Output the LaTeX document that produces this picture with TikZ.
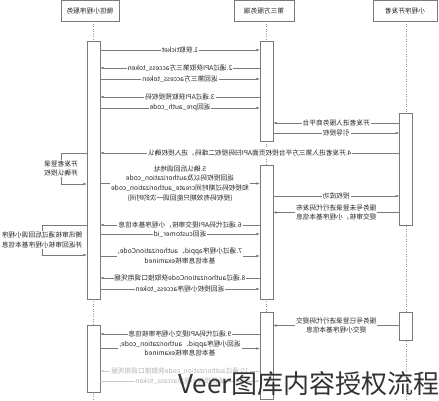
\documentclass[tikz,border=0pt]{standalone}
\usepackage{fontspec}
\setmainfont{Noto Sans CJK SC}
\newfontfamily\wmfont{Noto Sans CJK SC}
\usetikzlibrary{arrows.meta}
\definecolor{ln}{HTML}{7A7A7A}
\definecolor{tx}{HTML}{262626}
\begin{document}
\begin{tikzpicture}[x=1pt,y=-1pt,
  hdr/.style={draw=ln, fill=white, minimum height=20.5pt, inner sep=0pt, font=\fontsize{6.7}{8}\selectfont, text=tx, xscale=-1},
  act/.style={draw=ln, fill=white, minimum width=13pt, inner sep=0pt},
  life/.style={draw=ln!80, dotted, line width=0.5pt},
  msg/.style={draw=ln, line width=0.5pt, -{Latex[length=3.5pt,width=2.6pt]}},
  lbl/.style={fill=white, inner sep=1pt, font=\fontsize{6.7}{9.7}\selectfont, text=tx, align=center, xscale=-1},
  faded/.style={draw=ln!40},
  fadedlbl/.style={text=tx!35}]
\useasboundingbox (0,0) rectangle (439,400);
\fill[white] (0,0) rectangle (439,400);
% headers
\node[hdr, minimum width=58pt] (hL) at (90,10.75) {微信小程序服务};
\node[hdr, minimum width=60pt] (hM) at (264,10.75) {第三方服务端};
\node[hdr, minimum width=64pt] (hR) at (405,10.75) {小程序开发者};
% anchor coordinates for lifelines
\coordinate (bL) at (93.5,400);
\coordinate (bM) at (266.5,400);
\coordinate (bR) at (406,400);
\draw[life] (bL |- hL.south) -- (bL);
\draw[life] (bM |- hM.south) -- (bM);
\draw[life] (bR |- hR.south) -- (bR);
% activations
\node[act, minimum height=258pt] (aL1) at (93.5,170) {};
\node[act, minimum height=67pt] (aL2) at (93.5,358.5) {};
\node[act, minimum height=100pt] (aM1) at (266.5,91) {};
\node[act, minimum height=134pt] (aM2) at (266.5,232) {};
\node[act, minimum height=87pt] (aM3) at (266.5,355.5) {};
\node[act, minimum height=112pt] (aR1) at (406,169) {};
\node[act, minimum height=28pt] (aR2) at (406,326) {};
% messages
\draw[msg] (aL1.east |- 0,50) -- (aM1.west |- 0,50) node[lbl,midway]{1.获取ticket};
\draw[msg] (aM1.west |- 0,68) -- (aL1.east |- 0,68) node[lbl,midway]{2.通过API获取第三方access\_token};
\draw[msg] (aL1.east |- 0,79) -- (aM1.west |- 0,79) node[lbl,midway]{返回第三方access\_token};
\draw[msg] (aM1.west |- 0,97) -- (aL1.east |- 0,97) node[lbl,midway]{3.通过API获取预授权码};
\draw[msg] (aL1.east |- 0,108) -- (aM1.west |- 0,108) node[lbl,midway]{返回pre\_auth\_code};
\draw[msg] (aR1.west |- 0,123) -- (aM1.east |- 0,123) node[lbl,midway]{开发者进入服务商平台};
\draw[msg] (aM1.east |- 0,133) -- (aR1.west |- 0,133) node[lbl,midway]{引导授权};
\draw[msg] (aR1.west |- 0,153) -- (aL1.east |- 0,153) node[lbl,midway]{4.开发者进入第三方平台授权页面API扫码授权二维码，进入授权确认};
\draw[msg] (aL1.west |- 0,153) -- (61,153) -- node[lbl]{开发者登录\\并确认授权} (61,184) -- (aL1.west |- 0,184);
\draw[msg] (aL1.east |- 0,183.5) -- (aM2.west |- 0,183.5) node[lbl,midway]{5.确认后回调地址\\返回授权码以及authorization\_code\\和授权码过期时间create\_authorization\_code\\(授权码有效期只能回调一次的时间)};
\draw[msg] (aM2.east |- 0,196) -- (aR1.west |- 0,196) node[lbl,midway]{授权成功};
\draw[msg] (aR1.west |- 0,212.5) -- (aM2.east |- 0,212.5) node[lbl,midway]{服务号未登录进行代码发布\\提交审核，小程序基本信息};
\draw[msg] (aM2.west |- 0,225) -- (aL1.east |- 0,225) node[lbl,midway]{6.通过代码API提交审核，小程序基本信息};
\draw[msg] (aL1.east |- 0,234) -- (aM2.west |- 0,234) node[lbl,midway]{返回customer\_id};
\draw[msg] (aL1.west |- 0,225) -- (42,225) -- node[lbl]{腾讯审核通过后回调小程序\\并返回审核小程序基本信息} (42,255) -- (aL1.west |- 0,255);
\draw[msg] (aL1.east |- 0,256) -- (aM2.west |- 0,256) node[lbl,midway]{7.通过小程序appid、authorizationCode,\\基本信息审核examined};
\draw[msg] (aM2.west |- 0,278) -- (aL1.east |- 0,278) node[lbl,midway]{8.通过authorizationCode获取接口调用凭据};
\draw[msg] (aL1.east |- 0,289) -- (aM2.west |- 0,289) node[lbl,midway]{返回授权小程序access\_token};
\draw[msg] (aR2.west |- 0,325.5) -- (aM3.east |- 0,325.5) node[lbl,midway]{服务号已登录进行代码提交\\提交小程序基本信息};
\draw[msg] (aM3.west |- 0,334) -- (aL2.east |- 0,334) node[lbl,midway]{9.通过代码API提交小程序审核信息};
\draw[msg] (aL2.east |- 0,348.5) -- (aM3.west |- 0,348.5) node[lbl,midway]{返回小程序appid、authorization\_code,\\基本信息审核examined};
\draw[msg,faded] (aM3.west |- 0,371) -- (aL2.east |- 0,371) node[lbl,fadedlbl,midway]{10.通过authorization\_code获取接口调用凭据};
\draw[msg,faded] (aL2.east |- 0,381) -- (aM3.west |- 0,381) node[lbl,fadedlbl,midway]{返回授权小程序access\_token};
% watermark
\node[anchor=base west, font=\wmfont\fontsize{26}{26}\selectfont, text=black!80, inner sep=0pt] (wm) at (178,393) {Veer图库内容授权流程};
\end{tikzpicture}
\end{document}
